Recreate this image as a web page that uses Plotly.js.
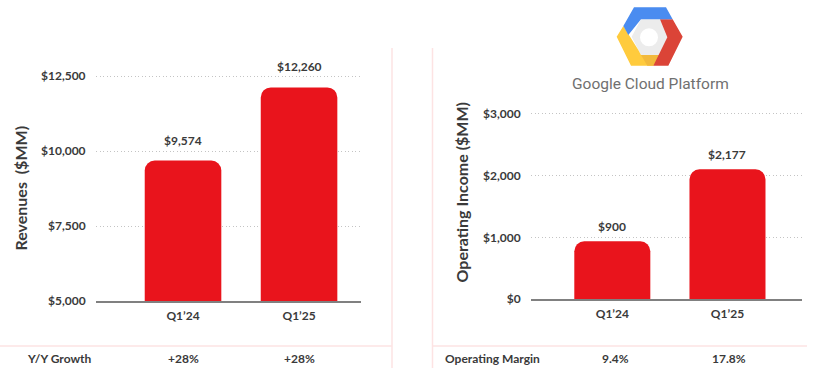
<!DOCTYPE html>
<html>
<head>
<meta charset="utf-8">
<script src="https://cdn.plot.ly/plotly-3.0.1.min.js"></script>
<style>html,body{margin:0;padding:0;background:#fff;overflow:hidden}#chart{width:825px;height:385px}</style>
</head>
<body>
<div id="chart"></div>
<script>
// Data
const categories = ["Q1\u201924", "Q1\u201925"];
const revenueHeights = [9683, 12120];
const revenueLabels = ["$9,574", "$12,260"];
const revenueTicks = [5000, 7500, 10000, 12500];
const revenueTickText = ["$5,000", "$7,500", "$10,000", "$12,500"];
const growthValues = ["+28%", "+28%"];
const incomeHeights = [936, 2103];
const incomeLabels = ["$900", "$2,177"];
const incomeTicks = [0, 1000, 2000, 3000];
const incomeTickText = ["$0", "$1,000", "$2,000", "$3,000"];
const marginValues = ["9.4%", "17.8%"];

// Layout helpers
const W = 825, H = 385;
const px = v => v / W;
const py = v => 1 - v / H;
const FONT = "Lato, 'Open Sans', sans-serif";
const INK = "#3a3a3a";
const RED = "#E9141C";
const PINK = "#FDE3E3";

const LOGO = `<svg xmlns="http://www.w3.org/2000/svg" viewBox="165 15 210 190" width="420" height="380">
<polygon points="213,22 325,22 368,110 325,197 213,197 170,110" fill="#fff"/>
<polygon points="243,58 322,58 340,110 322,165 243,165 215,110" fill="#ececec"/>
<polygon points="170,110 190,78 235,150 243,165 305,165 280,197 222,197 213,197" fill="#FFCB3D"/>
<polygon points="243,165 300,165 280,197 262,197" fill="#F2B93B"/>
<polygon points="300,58 338,58 368,110 325,197 280,197 322,112" fill="#DB4437"/>
<polygon points="222,22 318,22 338,58 243,58 205,105 190,78" fill="#4A8CF0"/>
<circle cx="267" cy="112" r="27" fill="#fff"/>
</svg>`;

const barTrace = (y, xa, ya) => ({
  type: "bar", x: categories, y: y, xaxis: xa, yaxis: ya, width: 0.66,
  marker: {color: RED, line: {width: 0}}, hoverinfo: "skip", showlegend: false
});

const xCommon = {
  type: "category", showgrid: false, showline: true, linecolor: "#808080", linewidth: 2,
  zeroline: false, ticks: "outside", ticklen: 3, tickcolor: "rgba(0,0,0,0)",
  tickfont: {family: FONT, size: 12, color: INK, weight: 700}, fixedrange: true
};
const yCommon = {
  showgrid: true, gridcolor: "#c4c4c4", griddash: "1px,2.5px", gridwidth: 1, zeroline: false, showline: false,
  ticks: "outside", ticklen: 7, tickcolor: "rgba(0,0,0,0)",
  tickfont: {family: FONT, size: 12, color: INK, weight: 700}, fixedrange: true
};

const ann = (text, x, y, extra) => Object.assign({
  text, x, y, xref: "paper", yref: "paper", xanchor: "center", yanchor: "middle",
  showarrow: false, font: {family: FONT, size: 12, color: INK, weight: 700}
}, extra || {});

const annotations = [];
const barLabel = (text, i, h, xa, ya, shift) => annotations.push({
  text, x: i, y: h, xref: xa, yref: ya, yshift: shift, xanchor: "center", yanchor: "middle",
  showarrow: false, font: {family: FONT, size: 12, color: INK, weight: 700}
});
revenueLabels.forEach((t, i) => barLabel(t, i, revenueHeights[i], "x", "y", 20.5));
incomeLabels.forEach((t, i) => barLabel(t, i, incomeHeights[i], "x2", "y2", 15));

annotations.push(ann("Revenues  ($MM)", px(20), py(188.5), {textangle: -90, font: {family: FONT, size: 16, color: INK, weight: 700}}));
annotations.push(ann("Operating Income ($MM)", px(461), py(192.5), {textangle: -90, font: {family: FONT, size: 16, color: INK, weight: 700}}));
annotations.push(ann("Y/Y Growth", px(59), py(358.7)));
annotations.push(ann("Operating Margin", px(493), py(358.7)));
growthValues.forEach((t, i) => annotations.push(ann(t, px([183, 299][i]), py(358.7))));
marginValues.forEach((t, i) => annotations.push(ann(t, px([615.3, 729][i]), py(358.7))));
annotations.push(ann("Google Cloud Platform", px(650), py(84.3), {font: {family: "Roboto, sans-serif", size: 15.5, color: "#707070"}}));

const pinkLine = (x0, y0, x1, y1) => ({
  type: "line", xref: "paper", yref: "paper", x0: px(x0), y0: py(y0), x1: px(x1), y1: py(y1),
  line: {color: PINK, width: 1.5}, layer: "below"
});

const layout = {
  width: W, height: H, margin: {l: 0, r: 0, t: 0, b: 0},
  paper_bgcolor: "#fff", plot_bgcolor: "rgba(0,0,0,0)",
  barcornerradius: 10, showlegend: false,
  xaxis: Object.assign({}, xCommon, {domain: [px(96), px(361)], range: [-0.75, 1.534], anchor: "y"}),
  yaxis: Object.assign({}, yCommon, {domain: [py(301), py(70)], range: [5000, 12700], tickvals: revenueTicks, ticktext: revenueTickText, anchor: "x"}),
  xaxis2: Object.assign({}, xCommon, {domain: [px(531), px(802)], range: [-0.706, 1.647], anchor: "y2"}),
  yaxis2: Object.assign({}, yCommon, {domain: [py(299), py(108)], range: [0, 3097], tickvals: incomeTicks, ticktext: incomeTickText, anchor: "x2"}),
  annotations,
  shapes: [
    pinkLine(392, 48, 392, 368),
    pinkLine(432.5, 48, 432.5, 368),
    pinkLine(0, 346, 392, 346),
    pinkLine(432.5, 346, 807, 346)
  ],
  images: [{
    source: "data:image/svg+xml;base64," + btoa(LOGO),
    xref: "paper", yref: "paper", x: px(615), y: py(5),
    sizex: px(70), sizey: 63.3 / H, xanchor: "left", yanchor: "top", sizing: "stretch", layer: "above"
  }]
};

Plotly.newPlot("chart", [
  barTrace(revenueHeights, "x", "y"),
  barTrace(incomeHeights, "x2", "y2")
], layout, {displayModeBar: false, staticPlot: true});
</script>
</body>
</html>
